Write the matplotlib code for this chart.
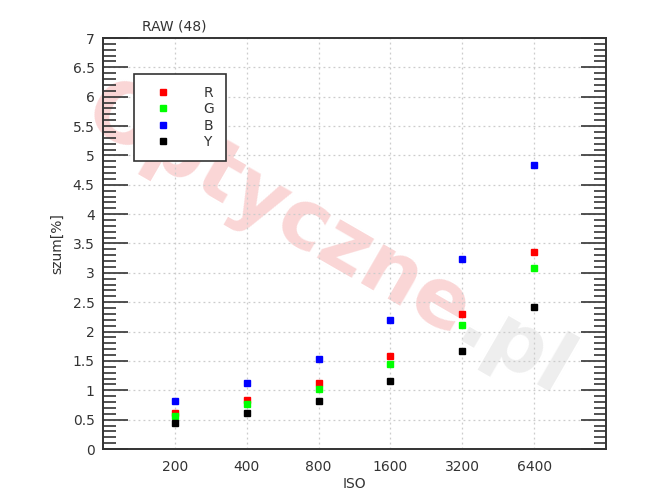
import math
import matplotlib
matplotlib.use("Agg")
import matplotlib.pyplot as plt
from matplotlib.ticker import MultipleLocator, NullLocator

iso_labels = ["200", "400", "800", "1600", "3200", "6400"]
R = [0.62, 0.84, 1.12, 1.59, 2.30, 3.35]
G = [0.56, 0.77, 1.03, 1.45, 2.12, 3.08]
B = [0.82, 1.13, 1.53, 2.20, 3.23, 4.84]
Y = [0.45, 0.62, 0.82, 1.15, 1.67, 2.41]
series = [("R", R, "#ff0000"), ("G", G, "#00ff00"), ("B", B, "#0000ff"), ("Y", Y, "#000000")]

plt.rcParams['font.family'] = ['DejaVu Sans']
fig = plt.figure(figsize=(6.7, 4.9), dpi=100)
W, H = 670, 490
ax = fig.add_axes([103 / W, 1 - 449 / H, (606 - 103) / W, (449 - 38) / H])

# watermark (behind grid and marks), two-coloured
wm_parts = [("Optyczne", "#fad6d6"), (".pl", "#eeeeee")]
wm_size = 59
wm_angle = -30
renderer = fig.canvas.get_renderer()
widths = []
for txt, _ in wm_parts:
    tmp = fig.text(0, 0, txt, fontsize=wm_size, fontweight="bold")
    widths.append(tmp.get_window_extent(renderer).width)
    tmp.remove()
total = sum(widths)
cx, cy = 328, H - 242
ca, sa = math.cos(math.radians(wm_angle)), math.sin(math.radians(wm_angle))
px, py = cx - total / 2 * ca, cy - total / 2 * sa
for (txt, col), w in zip(wm_parts, widths):
    ax.text(px / W, py / H, txt, transform=fig.transFigure, rotation=wm_angle,
            rotation_mode="anchor", ha="left", va="center", fontsize=wm_size,
            fontweight="bold", color=col, zorder=0.5, clip_on=False)
    px += w * ca
    py += w * sa

xs = list(range(1, len(iso_labels) + 1))
for name, vals, col in series:
    ax.plot(xs, vals, linestyle="none", marker="s", markersize=5, color=col, label=name, zorder=3)

ax.set_xlim(0, 7)
ax.set_ylim(0, 7)
ax.set_xticks(xs)
ax.set_xticklabels(iso_labels)
ax.xaxis.set_minor_locator(NullLocator())
ax.yaxis.set_major_locator(MultipleLocator(0.5))
ax.yaxis.set_minor_locator(MultipleLocator(0.1))
ax.set_yticklabels([("%g" % v) for v in ax.get_yticks()])
ax.tick_params(axis="y", which="major", direction="in", length=18, width=1.2, color="#333333",
               right=True, labelsize=10, labelcolor="#333333", pad=6)
ax.tick_params(axis="y", which="minor", direction="in", length=9, width=1.2, color="#333333", right=True)
ax.tick_params(axis="x", which="both", length=0, top=False, labelsize=10, labelcolor="#333333", pad=8)
ax.grid(True, which="major", linestyle=(0, (1.5, 2.5)), color="#cccccc", linewidth=0.9, zorder=1)
ax.set_axisbelow(True)
ax.patch.set_alpha(0)
for s in ax.spines.values():
    s.set_color("#333333")
    s.set_linewidth(1.4)

ax.set_xlabel("ISO", fontsize=10, color="#333333", labelpad=2)
ax.set_ylabel("szum[%]", fontsize=10, color="#333333", labelpad=6)
fig.text(174 / W, 1 - 26 / H, "RAW (48)", ha="center", va="center", fontsize=10, color="#333333")

leg = ax.legend(loc="upper left", bbox_to_anchor=((134 - 103) / 503, (449 - 74) / 411),
                frameon=True, fancybox=False, edgecolor="#333333", handlelength=2.5,
                markerfirst=True, fontsize=10, handletextpad=1.65, borderpad=0.85,
                labelspacing=0.18, borderaxespad=0)
leg.get_frame().set_linewidth(1.2)
leg.get_frame().set_facecolor("white")
leg.get_frame().set_alpha(None)
leg.set_zorder(4)
for t in leg.get_texts():
    t.set_color("#333333")

fig.savefig("out.png", dpi=100)
